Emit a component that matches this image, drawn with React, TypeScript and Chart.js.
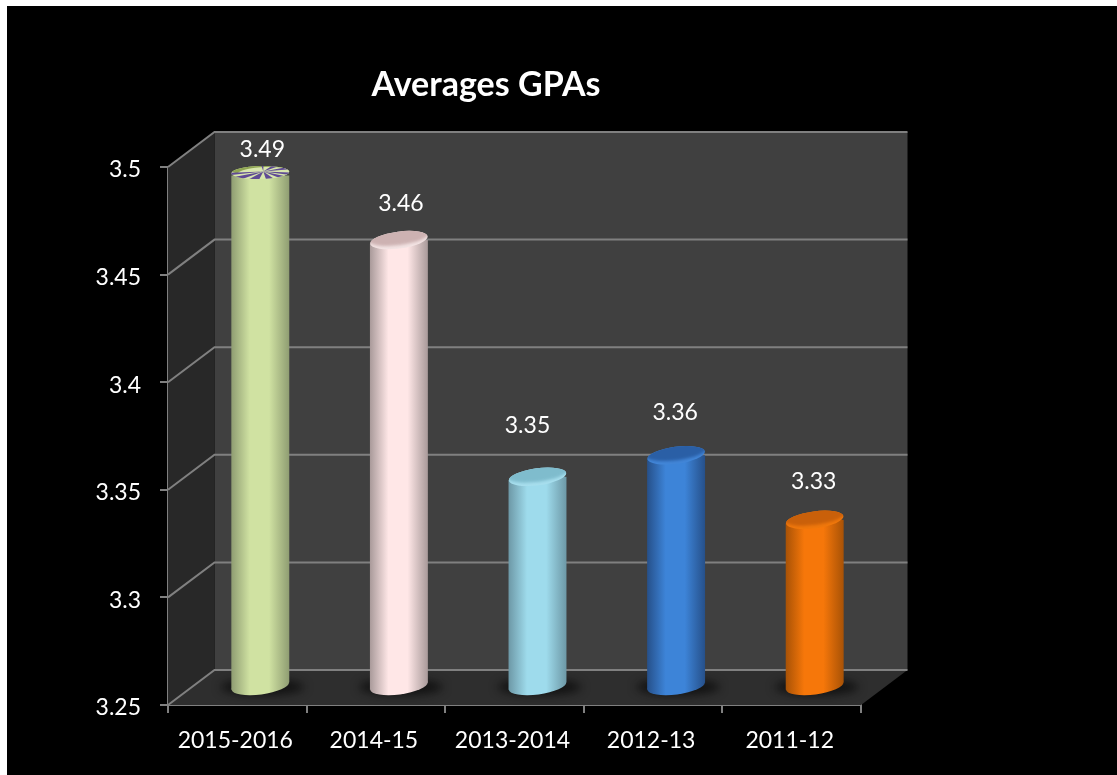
import React, { useEffect, useRef } from "react";
import { Chart, registerables } from "chart.js";

Chart.register(...registerables);

const categories = ["2015-2016", "2014-15", "2013-2014", "2012-13", "2011-12"];
const gpaValues = [3.49, 3.46, 3.35, 3.36, 3.33];
const valueLabels = ["3.49", "3.46", "3.35", "3.36", "3.33"];
const yTickValues = [3.25, 3.3, 3.35, 3.4, 3.45, 3.5];

const barMid = ["#d0e2a2", "#ffe7e7", "#9edbec", "#3d84d8", "#f6770a"];
const barEdge = ["#8f9d72", "#a99a9a", "#6d98a6", "#26508a", "#a85206"];
const capDark = ["#8fa552", "#cdb2b2", "#7fbccd", "#2a5fa6", "#c9600a"];
const capLight = ["#d8e6ae", "#f3e4e4", "#a8dfee", "#4286d8", "#f0780c"];

// depth of the 3D box and of the bars inside it
const DEPTH_X = 46.5;
const DEPTH_Y = -35;
const BAR_DX = 23;
const BAR_DY = -13;
const BASE_Y = -19; // bottom ellipse centre, relative to the axis baseline
const LABEL_NUDGE: [number, number][] = [
  [25, -38.5],
  [25, -50],
  [13, -63.8],
  [22, -56],
  [22, -51],
];
// angular position and width of the dark streaks on the first cap
const CAP_STREAKS: [number, number][] = [
  [0.1, 0.25],
  [0.55, 0.3],
  [1.1, 0.35],
  [1.75, 0.4],
  [2.35, 0.3],
  [2.85, 0.18],
  [4.6, 0.12],
  [5.2, 0.3],
  [5.8, 0.25],
];

function barWidth(chart: any) {
  return (chart.scales.x.width / categories.length) * 0.418;
}

function barGradient(ctx: CanvasRenderingContext2D, cx: number, w: number, i: number) {
  const g = ctx.createLinearGradient(cx - w / 2, 0, cx + w / 2, 0);
  g.addColorStop(0, barEdge[i]);
  g.addColorStop(0.32, barMid[i]);
  g.addColorStop(0.65, barMid[i]);
  g.addColorStop(1, barEdge[i]);
  return g;
}

const TILT = -0.13;
const capShape = (el: any, i: number) => {
  const flat = i === 0;
  return {
    cx: el.x + BAR_DX,
    cy: el.y + BAR_DY - (flat ? 3 : 0),
    tilt: flat ? -0.03 : TILT,
    ry: flat ? 6.5 : 8.5,
    flat,
  };
};

const box3d = {
  id: "box3d",
  afterLayout(chart: any) {
    if (chart.titleBlock) {
      chart.titleBlock.left = 0;
      chart.titleBlock.right = 972;
    }
    chart.scales.y.getLabelItems(chart.chartArea).forEach((it: any) => {
      it.options.translation[1] += 3;
    });
    chart.scales.x.getLabelItems(chart.chartArea).forEach((it: any) => {
      it.options.translation[0] -= 2;
    });
  },
  beforeDatasetsDraw(chart: any) {
    const { ctx, chartArea: a, scales } = chart;
    const y = scales.y;
    ctx.save();
    // back wall
    ctx.fillStyle = "#404040";
    ctx.fillRect(a.left + DEPTH_X, a.top + DEPTH_Y, a.width, a.height);
    // left wall
    ctx.fillStyle = "#282828";
    ctx.beginPath();
    ctx.moveTo(a.left, a.top);
    ctx.lineTo(a.left + DEPTH_X, a.top + DEPTH_Y);
    ctx.lineTo(a.left + DEPTH_X, a.bottom + DEPTH_Y);
    ctx.lineTo(a.left, a.bottom);
    ctx.closePath();
    ctx.fill();
    // floor
    ctx.fillStyle = "#2e2e2e";
    ctx.beginPath();
    ctx.moveTo(a.left, a.bottom);
    ctx.lineTo(a.left + DEPTH_X, a.bottom + DEPTH_Y);
    ctx.lineTo(a.right + DEPTH_X, a.bottom + DEPTH_Y);
    ctx.lineTo(a.right, a.bottom);
    ctx.closePath();
    ctx.fill();
    // grid on walls
    ctx.strokeStyle = "#808080";
    ctx.lineWidth = 2;
    yTickValues.forEach((v) => {
      const py = y.getPixelForValue(v);
      ctx.beginPath();
      ctx.moveTo(a.left, py);
      ctx.lineTo(a.left + DEPTH_X, py + DEPTH_Y);
      ctx.lineTo(a.right + DEPTH_X, py + DEPTH_Y);
      ctx.stroke();
    });
    // floor shadows
    const meta = chart.getDatasetMeta(0);
    meta.data.forEach((el: any) => {
      ctx.save();
      ctx.filter = "blur(5px)";
      ctx.fillStyle = "rgba(8,8,8,0.75)";
      ctx.beginPath();
      ctx.ellipse(el.x + BAR_DX + 2, a.bottom + BASE_Y + 1, 42, 8, 0, 0, Math.PI * 2);
      ctx.fill();
      ctx.restore();
    });
    ctx.restore();
  },
  beforeDatasetDraw(chart: any) {
    const { ctx, chartArea: a } = chart;
    const w = barWidth(chart);
    const meta = chart.getDatasetMeta(0);
    const bottom = a.bottom + BASE_Y;
    ctx.save();
    // the bar body runs between the tilted axes of its two end ellipses
    ctx.beginPath();
    meta.data.forEach((el: any, i: number) => {
      const { cx, cy, tilt } = capShape(el, i);
      const topRise = (w / 2) * Math.sin(tilt);
      const baseRise = (w / 2) * Math.sin(TILT);
      ctx.moveTo(cx - w / 2 - 1, cy - topRise);
      ctx.lineTo(cx + w / 2 + 1, cy + topRise);
      ctx.lineTo(cx + w / 2 + 1, bottom + baseRise);
      ctx.lineTo(cx - w / 2 - 1, bottom - baseRise);
      ctx.closePath();
    });
    ctx.clip();
    ctx.translate(BAR_DX, BAR_DY);
  },
  afterDatasetDraw(chart: any) {
    const { ctx, chartArea: a } = chart;
    ctx.restore();
    const meta = chart.getDatasetMeta(0);
    const w = barWidth(chart);
    meta.data.forEach((el: any, i: number) => {
      const { cx, cy, tilt, ry, flat } = capShape(el, i);
      ctx.save();
      // bottom of the cylinder
      ctx.fillStyle = barGradient(ctx, cx, w, i);
      ctx.beginPath();
      ctx.ellipse(cx, a.bottom + BASE_Y, w / 2, 8.5, TILT, 0, Math.PI * 2);
      ctx.fill();
      // top of the cylinder
      ctx.fillStyle = capLight[i];
      ctx.beginPath();
      ctx.ellipse(cx, cy, w / 2, ry, tilt, 0, Math.PI * 2);
      ctx.fill();
      ctx.clip();
      ctx.save();
      if (!flat) ctx.filter = "blur(1.5px)";
      ctx.fillStyle = capDark[i];
      ctx.beginPath();
      ctx.ellipse(cx, cy - (flat ? 4 : 3.5), w / 2 + 2, ry, tilt, 0, Math.PI * 2);
      ctx.fill();
      ctx.restore();
      if (flat) {
        // mottled texture on the first cap
        ctx.fillStyle = capLight[i];
        ctx.beginPath();
        ctx.ellipse(cx + 6, cy + 1, w / 2, ry, tilt, 0, Math.PI * 2);
        ctx.fill();
        ctx.fillStyle = "#5f4a94";
        CAP_STREAKS.forEach(([a0, da]) => {
          ctx.beginPath();
          ctx.moveTo(cx + 3, cy - 1);
          ctx.lineTo(cx + 3 + 40 * Math.cos(a0), cy - 1 + 14 * Math.sin(a0));
          ctx.lineTo(cx + 3 + 40 * Math.cos(a0 + da), cy - 1 + 14 * Math.sin(a0 + da));
          ctx.closePath();
          ctx.fill();
        });
      }
      ctx.restore();
    });
    // value labels
    ctx.save();
    ctx.fillStyle = "#ffffff";
    ctx.font = "23px Lato";
    ctx.textAlign = "center";
    ctx.textBaseline = "middle";
    meta.data.forEach((el: any, i: number) => {
      ctx.fillText(valueLabels[i], el.x + LABEL_NUDGE[i][0], el.y + LABEL_NUDGE[i][1]);
    });
    ctx.restore();
  },
};

export default function App() {
  const ref = useRef<HTMLCanvasElement>(null);
  useEffect(() => {
    document.body.style.margin = "0";
    document.body.style.background = "#ffffff";
    const chart = new Chart(ref.current!, {
      type: "bar",
      data: {
        labels: categories,
        datasets: [
          {
            label: "Averages GPAs",
            data: gpaValues,
            base: yTickValues[0],
            barPercentage: 0.418,
            categoryPercentage: 1,
            clip: false,
            backgroundColor: (c: any) => {
              const sx = c.chart.scales.x;
              const px = sx && c.dataIndex !== undefined ? sx.getPixelForValue(c.dataIndex) : NaN;
              const w = sx ? barWidth(c.chart) : NaN;
              if (!Number.isFinite(px) || !Number.isFinite(w)) return "#888888";
              return barGradient(c.chart.ctx, px, w, c.dataIndex);
            },
            borderWidth: 0,
          },
        ],
      },
      options: {
        animation: false,
        responsive: false,
        layout: { padding: { left: 0, right: 256, top: 0, bottom: 0 } },
        plugins: {
          legend: { display: false },
          tooltip: { enabled: false },
          title: {
            display: true,
            text: "Averages GPAs",
            color: "#ffffff",
            font: { family: "Lato", size: 34, weight: "bold", lineHeight: 1.2 },
            padding: { top: 64.6, bottom: 61.6 },
          },
        },
        scales: {
          x: {
            grid: { drawOnChartArea: false, color: "#808080", tickLength: 8, lineWidth: 2, offset: true },
            border: { color: "#808080", width: 2 },
            ticks: { color: "#ffffff", font: { family: "Lato", size: 23 }, padding: 14, maxRotation: 0 },
            afterFit: (s: any) => {
              s.height = 70;
            },
          },
          y: {
            min: 3.25,
            max: 3.5,
            afterBuildTicks: (s: any) => {
              s.ticks = yTickValues.map((value) => ({ value }));
            },
            grid: { drawOnChartArea: false, color: "#808080", tickLength: 8, lineWidth: 2 },
            border: { color: "#808080", width: 2 },
            ticks: {
              color: "#ffffff",
              font: { family: "Lato", size: 23 },
              padding: 19,
              callback: (v: any) => String(Number(Number(v).toFixed(2))),
            },
            afterFit: (s: any) => {
              s.width = 168;
            },
          },
        },
      },
      plugins: [box3d],
    } as any);
    return () => chart.destroy();
  }, []);
  return (
    <div style={{ position: "fixed", left: 0, top: 0, width: 1117, height: 775, background: "#fff", overflow: "hidden" }}>
      <div style={{ position: "absolute", left: 7, top: 6, right: 0, bottom: 0, background: "#000" }} />
      <canvas ref={ref} width={1117} height={775} style={{ position: "absolute", left: 0, top: 0, width: 1117, height: 775 }} />
    </div>
  );
}
